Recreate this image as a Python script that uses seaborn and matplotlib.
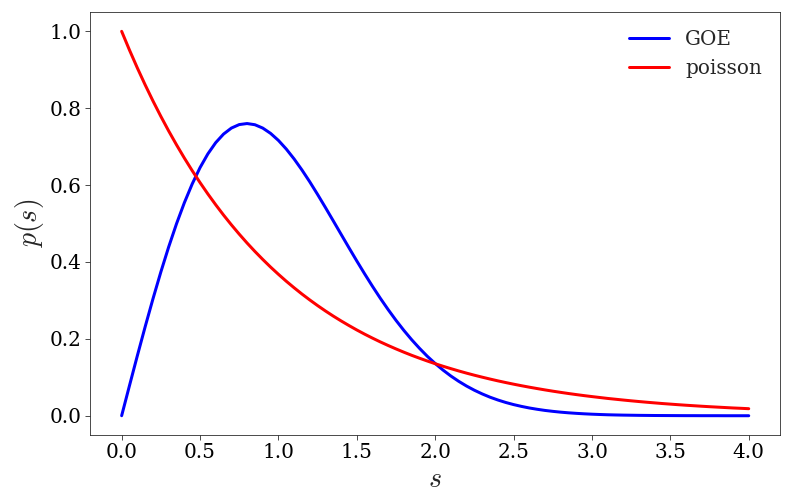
import matplotlib
matplotlib.use("Agg")
import matplotlib.pyplot as plt
import seaborn as sns

s_values = [round(0.05 * i, 2) for i in range(81)]
goe_values = [0.0, 0.0784, 0.1559, 0.2315, 0.3044, 0.3739, 0.4391, 0.4994, 0.5541, 0.6029,
              0.6454, 0.6812, 0.7104, 0.7327, 0.7483, 0.7574, 0.7601, 0.7570, 0.7483, 0.7345,
              0.7162, 0.6938, 0.6680, 0.6393, 0.6084, 0.5755, 0.5415, 0.5068, 0.4718, 0.4369,
              0.4025, 0.3690, 0.3366, 0.3055, 0.2760, 0.2481, 0.2220, 0.1977, 0.1753, 0.1545,
              0.1358, 0.1187, 0.1033, 0.0895, 0.0772, 0.0663, 0.0567, 0.0482, 0.0409, 0.0345,
              0.0290, 0.0243, 0.0202, 0.0168, 0.0138, 0.0114, 0.0093, 0.0076, 0.0062, 0.0050,
              0.0040, 0.0032, 0.0025, 0.0020, 0.0016, 0.0013, 0.0010, 0.0008, 0.0006, 0.0005,
              0.0004, 0.0003, 0.0002, 0.0002, 0.0001, 0.0001, 0.0001, 0.0000, 0.0000, 0.0000,
              0.0000]
poisson_values = [1.0, 0.9512, 0.9048, 0.8607, 0.8187, 0.7788, 0.7408, 0.7047, 0.6703, 0.6376,
                  0.6065, 0.5769, 0.5488, 0.5220, 0.4966, 0.4724, 0.4493, 0.4274, 0.4066, 0.3867,
                  0.3679, 0.3499, 0.3329, 0.3166, 0.3012, 0.2865, 0.2725, 0.2592, 0.2466, 0.2346,
                  0.2231, 0.2122, 0.2019, 0.1920, 0.1827, 0.1738, 0.1653, 0.1572, 0.1496, 0.1423,
                  0.1353, 0.1287, 0.1225, 0.1165, 0.1108, 0.1054, 0.1003, 0.0954, 0.0907, 0.0863,
                  0.0821, 0.0781, 0.0743, 0.0707, 0.0672, 0.0639, 0.0608, 0.0578, 0.0550, 0.0523,
                  0.0498, 0.0474, 0.0450, 0.0429, 0.0408, 0.0388, 0.0369, 0.0351, 0.0334, 0.0317,
                  0.0302, 0.0287, 0.0273, 0.0260, 0.0247, 0.0235, 0.0224, 0.0213, 0.0202, 0.0193,
                  0.0183]
series_labels = ["GOE", "poisson"]
x_ticks = [0.0, 0.5, 1.0, 1.5, 2.0, 2.5, 3.0, 3.5, 4.0]
y_ticks = [0.0, 0.2, 0.4, 0.6, 0.8, 1.0]

sns.set_style("ticks")
plt.rcParams['font.family'] = ['DejaVu Serif']
plt.rcParams['mathtext.fontset'] = 'cm'

fig = plt.figure(figsize=(11, 7), dpi=72)
ax = fig.add_axes([0.114, 0.137, 0.871, 0.839])

sns.lineplot(x=s_values, y=goe_values, color='blue', lw=3, label=series_labels[0], ax=ax)
sns.lineplot(x=s_values, y=poisson_values, color='red', lw=3, label=series_labels[1], ax=ax)

for sp in ax.spines.values():
    sp.set_visible(True)
    sp.set_color('#222222')
    sp.set_linewidth(0.8)

ax.set_xticks(x_ticks)
ax.set_yticks(y_ticks)
ax.tick_params(labelsize=20, colors='#222222', labelcolor='black', length=5, width=0.8)
ax.set_xlim(-0.2, 4.2)
ax.set_ylim(-0.05, 1.05)
ax.set_xlabel('$s$', fontsize=28)
ax.set_ylabel('$p(s)$', fontsize=28)
ax.legend(frameon=False, fontsize=20, loc='upper right')

fig.savefig('out.png', dpi=72)
